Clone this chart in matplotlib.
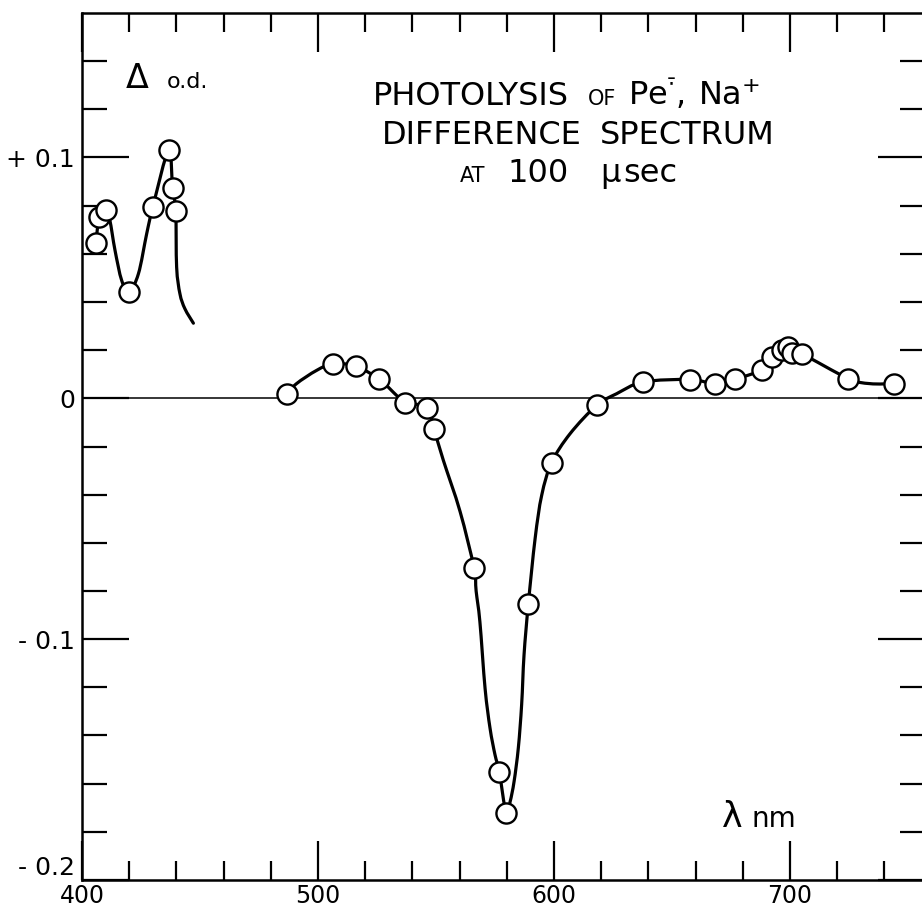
import numpy as np
import matplotlib.pyplot as plt
from matplotlib.path import Path
from matplotlib.patches import PathPatch
from matplotlib.ticker import MultipleLocator, FixedLocator, FixedFormatter

# measured points, blue region (left branch)
wl_left = [405.9, 407.3, 410.2, 419.9, 430.0, 436.7, 438.4, 439.7]
od_left = [0.0644, 0.0752, 0.0783, 0.0441, 0.0794, 0.103, 0.0873, 0.0777]

# measured points, main branch
wl_main = [487.0, 506.5, 516.1, 526.0, 536.9, 546.3, 549.2, 566.1, 576.8,
           579.7, 589.1, 599.0, 618.1, 637.8, 657.6, 668.2, 676.7, 688.0,
           692.2, 696.5, 699.3, 700.7, 704.9, 724.7, 744.1]
od_main = [0.0019, 0.0144, 0.0133, 0.0079, -0.0018, -0.0039, -0.0129, -0.0704,
           -0.155, -0.1723, -0.0856, -0.0267, -0.0029, 0.0068, 0.0078, 0.0061,
           0.0079, 0.0119, 0.0171, 0.0202, 0.0213, 0.0188, 0.0185, 0.0082, 0.0061]

# hand-drawn curves
curve_left_x = [405.9, 407.3, 410.2, 411.8, 414.0, 416.8, 419.9, 423.9, 427.4,
                430.0, 436.7, 438.4, 439.7, 440.1, 441.5, 443.6, 447.2]
curve_left_y = [0.0644, 0.0752, 0.0783, 0.074, 0.0614, 0.049, 0.0441, 0.0517,
                0.0683, 0.0794, 0.103, 0.0873, 0.0777, 0.0545, 0.0434, 0.0372, 0.0312]

curve_main_x = [487.0, 490.9, 499.4, 506.5, 516.1, 526.0, 533.3, 536.9, 546.3,
                549.2, 553.1, 560.2, 566.1, 567.0, 568.6, 570.8, 572.9, 575.0,
                576.8, 579.7, 581.4, 583.1, 584.9, 586.3, 587.3, 589.1, 592.0,
                594.8, 599.0, 606.8, 618.1, 626.5, 637.8, 657.6, 668.2, 676.7,
                688.0, 692.2, 696.5, 699.3, 700.7, 704.9, 724.7, 733.9, 744.1]
curve_main_y = [0.0019, 0.0061, 0.0116, 0.0144, 0.0133, 0.0079, 0.0012, -0.0018,
                -0.0039, -0.0129, -0.0257, -0.047, -0.0704, -0.080, -0.0928,
                -0.1205, -0.137, -0.148, -0.155, -0.1723, -0.1675, -0.159, -0.145,
                -0.127, -0.1066, -0.0856, -0.0582, -0.0402, -0.0267, -0.0147,
                -0.0029, 0.0019, 0.0068, 0.0078, 0.0061, 0.0079, 0.0119, 0.0171,
                0.0202, 0.0213, 0.0188, 0.0185, 0.0082, 0.0061, 0.0061]

x_labels = ['400', '500', '600', '700']
y_ticks = [-0.2, -0.1, 0.0, 0.1]
y_labels = ['- 0.2', '- 0.1', '0', '+ 0.1']

W, H = 922, 915
fig = plt.figure(figsize=(W / 100, H / 100), dpi=100)
ax = fig.add_axes([82 / W, 35 / H, 357 * 2.36 / W, 867 / H])
ax.set_xlim(400, 757)
ax.set_ylim(-0.2, 0.16)

ax.axhline(0, color='black', lw=1.1, zorder=1)


def smooth_path(xs, ys):
    # draw the traced curve as bezier pieces (catmull-rom style handles)
    p = np.column_stack([xs, ys])
    verts = [p[0]]
    codes = [Path.MOVETO]
    for i in range(len(p) - 1):
        a = p[i - 1] if i > 0 else p[i]
        b, c = p[i], p[i + 1]
        d = p[i + 2] if i + 2 < len(p) else p[i + 1]
        verts += [b + (c - a) / 6, c - (d - b) / 6, c]
        codes += [Path.CURVE4] * 3
    return Path(verts, codes)


for cx, cy in [(curve_left_x, curve_left_y), (curve_main_x, curve_main_y)]:
    ax.add_patch(PathPatch(smooth_path(cx, cy), fill=False, ec='black', lw=2.3,
                           capstyle='round', zorder=2))
for px, py in [(wl_left, od_left), (wl_main, od_main)]:
    ax.plot(px, py, 'o', ms=14.5, mfc='white', mec='black', mew=1.7, zorder=3)

ax.xaxis.set_major_locator(FixedLocator([400, 500, 600, 700]))
ax.xaxis.set_major_formatter(FixedFormatter(x_labels))
ax.xaxis.set_minor_locator(MultipleLocator(20))
ax.yaxis.set_major_locator(FixedLocator(y_ticks))
ax.yaxis.set_major_formatter(FixedFormatter(y_labels))
ax.yaxis.set_minor_locator(FixedLocator(np.arange(-0.18, 0.15, 0.02)))

ax.tick_params(axis='x', which='major', direction='in', length=28, width=1.6,
               top=True, labelsize=17, pad=3)
ax.tick_params(axis='x', which='minor', direction='in', length=14, width=1.6, top=True)
ax.tick_params(axis='y', which='major', direction='in', length=34, width=1.6,
               right=True, labelsize=18, pad=5)
ax.tick_params(axis='y', which='minor', direction='in', length=18, width=1.6, right=True)
for s in ax.spines.values():
    s.set_linewidth(1.8)

# lift the bottom y label so it clears "400"
ax.get_yticklabels()[0].set_verticalalignment('bottom')


def ftext(x, y, s, size, **kw):
    fig.text(x / W, 1 - y / H, s, fontsize=size, va='baseline', ha='left', **kw)


# title block
ftext(373, 105, 'PHOTOLYSIS', 23)
ftext(588, 105, 'OF', 15)
ftext(628, 105, r'Pe$^{\bar{\cdot}}$,', 23)
ftext(698, 105, r'Na$^{+}$', 23)
ftext(382, 144, 'DIFFERENCE', 23)
ftext(600, 144, 'SPECTRUM', 23)
ftext(460, 182, 'AT', 15)
ftext(507, 182, '100', 23)
ftext(600, 182, 'μ', 23)
ftext(623, 182, 'sec', 23)

ftext(126, 88, 'Δ', 24)
ftext(167, 88, 'o.d.', 16)
ftext(722, 827, 'λ', 25)
ftext(752, 827, 'nm', 20)

fig.savefig('out.png', dpi=100)
